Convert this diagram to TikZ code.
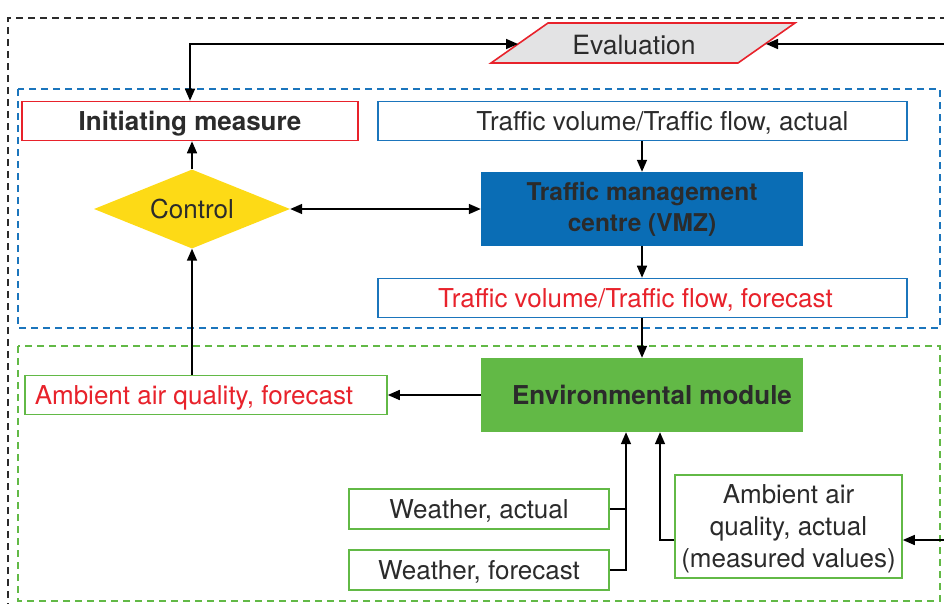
\documentclass[tikz,border=0pt]{standalone}
\usepackage{fontspec}
\setmainfont{TeX Gyre Heros}
\usetikzlibrary{shapes.geometric,arrows.meta}
\definecolor{cred}{HTML}{E8222B}
\definecolor{cblue}{HTML}{1B75BC}
\definecolor{cgreen}{HTML}{62B946}
\definecolor{cyell}{HTML}{FDDA16}
\definecolor{ctmc}{HTML}{0A6DB5}
\definecolor{ctext}{HTML}{2B2B2B}
\definecolor{cgray}{HTML}{E3E3E4}
\tikzset{
  bx/.style={draw, line width=1.6pt, fill=white, inner sep=0pt, text=ctext, font=\fontsize{26}{30}\selectfont, align=center, text depth=0pt},
  redbox/.style={bx, draw=cred},
  bluebox/.style={bx, draw=cblue},
  greenbox/.style={bx, draw=cgreen},
  conn/.style={line width=1.6pt, -{Triangle[length=12pt,width=10pt]}},
  conn2/.style={line width=1.6pt, {Triangle[length=12pt,width=10pt]}-{Triangle[length=12pt,width=10pt]}},
  plain/.style={line width=1.6pt},
  frame/.style={line width=1.4pt, dash pattern=on 7pt off 5pt}
}
\begin{document}
\begin{tikzpicture}[x=1pt,y=-1pt]
\useasboundingbox (0,0) rectangle (944,603);
% group frames
\draw[frame, draw=ctext] (8,610) -- (8,18) -- (960,18);
\draw[frame, draw=cblue] (18,89) rectangle (940,328);
\draw[frame, draw=cgreen] (18,346) rectangle (940,601);

% evaluation
\draw[line width=1.6pt, draw=cred, fill=cgray] (548,23) -- (795,23) -- (738,63) -- (491,63) -- cycle;
\node[text=ctext, font=\fontsize{26.5}{30}\selectfont, text depth=0pt] (eval) at (634,45) {Evaluation};
\coordinate (evl) at (518,44);
\coordinate (evr) at (766,44);
\coordinate (evin) at (944,44);

% top row
\node[redbox, minimum width=336pt, minimum height=39pt, font=\fontsize{26}{30}\selectfont\bfseries] (init) at (190,121) {Initiating measure};
\node[bluebox, minimum width=529pt, minimum height=39pt] (tact) at (642.5,121) {\hspace*{40pt}Traffic volume/Traffic flow, actual};

% control
\node[diamond, fill=cyell, inner sep=0, minimum width=196pt, minimum height=79pt, aspect=2.48, text=ctext, font=\fontsize{26}{30}\selectfont, text depth=0pt] (ctrl) at (192,209) {Control};

% TMC
\node[fill=ctmc, inner sep=0, minimum width=322pt, minimum height=74pt, text=ctext, align=center, font=\fontsize{24.5}{31}\selectfont\bfseries] (tmc) at (642,209) {Traffic management\\centre (VMZ)};

% forecast traffic
\node[bluebox, minimum width=529pt, minimum height=39pt, text=cred] (tfc) at (642.5,298) {Traffic volume/Traffic flow, forecast\hspace*{14pt}};

% environmental module
\node[fill=cgreen, inner sep=0, minimum width=322pt, minimum height=74pt, text=ctext, font=\fontsize{26}{30}\selectfont\bfseries, text depth=0pt] (env) at (642,395) {\hspace*{20pt}Environmental module};

% ambient forecast
\node[greenbox, minimum width=362pt, minimum height=39pt, text=cred] (aqf) at (206,395) {\hspace*{-24pt}Ambient air quality, forecast};

% weather
\node[greenbox, minimum width=260pt, minimum height=40pt] (wact) at (479,509) {Weather, actual};
\node[greenbox, minimum width=260pt, minimum height=40pt] (wfc) at (479,570) {Weather, forecast};

% ambient actual
\node[greenbox, minimum width=227pt, minimum height=103pt, font=\fontsize{26}{32}\selectfont] (aqa) at (788.5,526.5) {Ambient air\\quality, actual\\(measured values)};
\coordinate (aqin) at (944,540);

% connectors
\draw[conn2] (evl) -| (init.north);
\draw[conn] (evin) -- (evr);
\draw[conn] (ctrl.north) -- (ctrl.north |- init.south);
\draw[conn2] (ctrl.east) -- (tmc.west);
\draw[conn] (tact.south -| tmc.north) -- (tmc.north);
\draw[conn] (tmc.south) -- (tfc.north -| tmc.south);
\draw[conn] (tfc.south -| env.north) -- (env.north);
\draw[conn] (env.west) -- (aqf.east);
\draw[conn] (aqf.north -| ctrl.south) -- (ctrl.south);
\coordinate (wj) at (626,540);
\draw[plain] (wact.east) -- (wact.east -| wj);
\draw[conn] (wfc.east) -| (env.south -| wj);
\draw[conn] (aqa.west |- aqin) -| ([xshift=18pt]env.south);
\draw[conn] (aqin) -- (aqa.east |- aqin);
\end{tikzpicture}
\end{document}
